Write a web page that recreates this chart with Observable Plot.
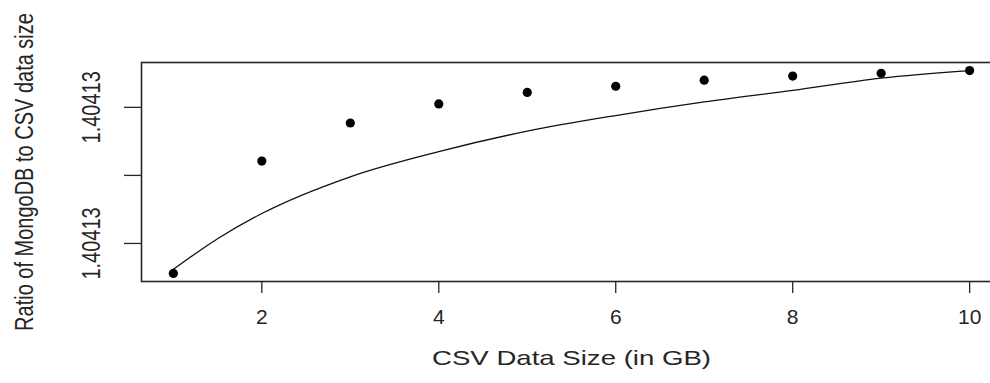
<!DOCTYPE html>
<html>
<head>
<meta charset="utf-8">
<script src="https://cdn.jsdelivr.net/npm/d3@7"></script>
<script src="https://cdn.jsdelivr.net/npm/@observablehq/plot@0.6"></script>
<style>
  html, body { margin: 0; padding: 0; background: #fff; overflow: hidden; }
  #chart { width: 990px; height: 383px; overflow: hidden; }
</style>
</head>
<body>
<div id="chart"></div>
<script>
// Data
const csvSizeGB = [1, 2, 3, 4, 5, 6, 7, 8, 9, 10];
const ratioValues = [1.404129856, 1.404130021, 1.404130077, 1.404130105, 1.404130122,
                     1.404130131, 1.404130140, 1.404130146, 1.404130150, 1.404130154];
const fitX = [1, 1.5, 2, 3, 4, 5, 6, 7, 8, 9, 10];
const fitY = [1.404129862, 1.404129907, 1.404129944, 1.404129998, 1.404130035, 1.404130065,
              1.404130088, 1.404130108, 1.404130125, 1.404130143, 1.404130154];
const xTicks = [2, 4, 6, 8, 10];
const yTicks = [1.4041299, 1.40413, 1.4041301];
const yTickLabels = ["1.40413", "", "1.40413"];
const xTitle = "CSV Data Size (in GB)";
const yTitle = "Ratio of MongoDB to CSV data size";

const points = csvSizeGB.map((x, i) => ({x, y: ratioValues[i]}));
const fit = fitX.map((x, i) => ({x, y: fitY[i]}));

// R-style 4% axis padding
const xe = d3.extent(csvSizeGB), xp = (xe[1] - xe[0]) * 0.04;
const ye = d3.extent(ratioValues), yp = (ye[1] - ye[0]) * 0.04;

const ink = "#262626";
const font = "'Liberation Sans', Arial, sans-serif";

const chart = Plot.plot({
  width: 990,
  height: 383,
  marginLeft: 141,
  marginRight: -11,
  marginTop: 62,
  marginBottom: 102,
  style: {fontFamily: font, color: ink, background: "#fff"},
  x: {domain: [xe[0] - xp, xe[1] + xp]},
  y: {domain: [ye[0] - yp, ye[1] + yp]},
  marks: [
    Plot.frame({stroke: ink, strokeWidth: 1.6}),
    Plot.axisX({ticks: xTicks, tickSize: 12, tickFormat: () => "", stroke: ink, strokeWidth: 1.3, label: null}),
    Plot.axisY({ticks: yTicks, tickSize: 17, tickFormat: () => "", stroke: ink, strokeWidth: 1.3, label: null}),
    Plot.text(xTicks, {x: d => d, text: d => String(d), frameAnchor: "bottom", dy: 36,
      lineAnchor: "middle", fontSize: 21, fill: ink}),
    Plot.text(yTicks.map((v, i) => ({v, t: yTickLabels[i]})), {y: "v", text: "t", frameAnchor: "left",
      dx: -50, rotate: -90, lineAnchor: "middle", textAnchor: "middle", fontSize: 20, fill: ink}),
    Plot.text([xTitle], {text: d => d, frameAnchor: "bottom", dy: 77, lineAnchor: "middle",
      fontSize: 21, fill: ink}),
    Plot.text([yTitle], {text: d => d, frameAnchor: "left", dx: -117, rotate: -90,
      lineAnchor: "middle", textAnchor: "middle", fontSize: 20, fill: ink}),
    Plot.line(fit, {x: "x", y: "y", curve: "monotone-x", stroke: "#111", strokeWidth: 1.3}),
    Plot.dot(points, {x: "x", y: "y", r: 4.6, fill: "#000", stroke: "none"})
  ]
});

document.getElementById("chart").appendChild(chart);

// Mimic the horizontally stretched look of the reference text
d3.select(chart).selectAll("text").each(function() {
  const t = this.textContent;
  const sel = d3.select(this);
  if (t === xTitle) {
    sel.attr("textLength", 279).attr("lengthAdjust", "spacingAndGlyphs");
  }
  const tr = sel.attr("transform");
  if (tr && tr.includes("rotate")) {
    sel.attr("transform", tr + " scale(1,1.3)");
  }
});
</script>
</body>
</html>
